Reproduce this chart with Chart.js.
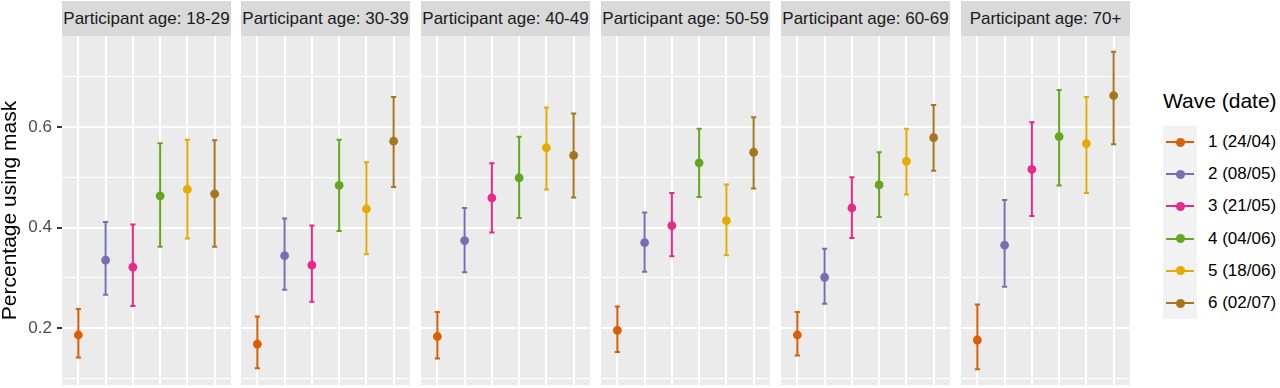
<!DOCTYPE html>
<html><head><meta charset="utf-8">
<script src="https://cdn.jsdelivr.net/npm/chart.js@4.4.1/dist/chart.umd.min.js"></script>
<style>
body{margin:0;background:#fff;width:1280px;height:388px;overflow:hidden;position:relative;font-family:"Liberation Sans",Arial,sans-serif;}
.strip{position:absolute;top:1px;height:35px;background:#D9D9D9;color:#1A1A1A;font-size:17px;line-height:35px;text-align:center;white-space:nowrap;}
canvas{position:absolute;}
.lgTitle{position:absolute;left:1163px;top:89px;font-size:21px;line-height:24px;color:#000;white-space:nowrap;}
.lgBg{position:absolute;left:1163px;background:#F2F2F2;width:34px;}
.lgLine{position:absolute;left:1166px;width:28px;height:2px;}
.lgDot{position:absolute;left:1175.6px;width:9px;height:9px;border-radius:50%;}
.lgLab{position:absolute;left:1208px;font-size:17px;line-height:20px;color:#000;white-space:nowrap;}
</style>
</head><body>
<script>
// ---- data ----
const ageGroups = ['18-29','30-39','40-49','50-59','60-69','70+'];
const waveLabels = ['1 (24/04)','2 (08/05)','3 (21/05)','4 (04/06)','5 (18/06)','6 (02/07)'];
const waveColors = ['#D95F02','#7570B3','#E7298A','#66A61E','#E6AB02','#A6761D'];
const yMajorTicks = [0.2, 0.4, 0.6];
const yMinorTicks = [0.1, 0.3, 0.5, 0.7];

const mean_18_29  = [0.186, 0.335, 0.321, 0.463, 0.476, 0.467];
const lower_18_29 = [0.141, 0.266, 0.244, 0.362, 0.378, 0.362];
const upper_18_29 = [0.238, 0.411, 0.406, 0.568, 0.575, 0.574];

const mean_30_39  = [0.168, 0.344, 0.325, 0.484, 0.437, 0.572];
const lower_30_39 = [0.120, 0.276, 0.252, 0.393, 0.347, 0.481];
const upper_30_39 = [0.223, 0.418, 0.404, 0.575, 0.530, 0.660];

const mean_40_49  = [0.183, 0.374, 0.459, 0.499, 0.559, 0.544];
const lower_40_49 = [0.139, 0.311, 0.390, 0.419, 0.476, 0.460];
const upper_40_49 = [0.232, 0.439, 0.528, 0.581, 0.639, 0.627];

const mean_50_59  = [0.195, 0.370, 0.404, 0.529, 0.414, 0.550];
const lower_50_59 = [0.152, 0.312, 0.343, 0.461, 0.345, 0.478];
const upper_50_59 = [0.243, 0.430, 0.469, 0.597, 0.486, 0.620];

const mean_60_69  = [0.186, 0.301, 0.439, 0.485, 0.532, 0.579];
const lower_60_69 = [0.145, 0.248, 0.379, 0.421, 0.466, 0.513];
const upper_60_69 = [0.232, 0.358, 0.500, 0.550, 0.597, 0.644];

const mean_70p  = [0.176, 0.365, 0.516, 0.581, 0.567, 0.663];
const lower_70p = [0.118, 0.282, 0.423, 0.484, 0.469, 0.566];
const upper_70p = [0.247, 0.455, 0.610, 0.674, 0.660, 0.750];

const means  = [mean_18_29, mean_30_39, mean_40_49, mean_50_59, mean_60_69, mean_70p];
const lowers = [lower_18_29, lower_30_39, lower_40_49, lower_50_59, lower_60_69, lower_70p];
const uppers = [upper_18_29, upper_30_39, upper_40_49, upper_50_59, upper_60_69, upper_70p];

// ---- layout ----
const FONT = '"Liberation Sans", Arial, sans-serif';
const panelTop = 36, panelH = 349, panelW = 169;
const panelLeft = ageGroups.map((_, i) => Math.round(61.6 + i * 179.85));
const allLo = Math.min(...lowers.flat()), allHi = Math.max(...uppers.flat());
const yPad = 0.05 * (allHi - allLo);
const yMin = allLo - yPad, yMax = allHi + yPad;
const yAllTicks = [...yMajorTicks, ...yMinorTicks].sort((a, b) => a - b);
const isMajor = v => yMajorTicks.some(m => Math.abs(m - v) < 1e-9);

const bgPlugin = {
  id: 'panelBg',
  beforeDraw(chart) {
    const {ctx, chartArea: a} = chart;
    ctx.save(); ctx.fillStyle = '#EBEBEB';
    ctx.fillRect(a.left, a.top, a.right - a.left, a.bottom - a.top);
    ctx.restore();
  }
};
const errorBarPlugin = {
  id: 'errorBars',
  beforeDatasetsDraw(chart) {
    const {ctx, scales: {x, y}} = chart;
    const ds = chart.data.datasets[0];
    ctx.save();
    ctx.lineWidth = 2;
    ds.lower.forEach((lo, k) => {
      const px = x.getPixelForValue(k + 1);
      const yl = y.getPixelForValue(lo), yh = y.getPixelForValue(ds.upper[k]);
      ctx.strokeStyle = waveColors[k];
      ctx.beginPath();
      ctx.moveTo(px, yl); ctx.lineTo(px, yh);
      ctx.moveTo(px - 2.6, yl); ctx.lineTo(px + 2.6, yl);
      ctx.moveTo(px - 2.6, yh); ctx.lineTo(px + 2.6, yh);
      ctx.stroke();
    });
    ctx.restore();
  }
};

ageGroups.forEach((age, i) => {
  const first = i === 0;
  const strip = document.createElement('div');
  strip.className = 'strip';
  strip.style.left = panelLeft[i] + 'px';
  strip.style.width = panelW + 'px';
  strip.textContent = 'Participant age: ' + age;
  document.body.appendChild(strip);

  const cv = document.createElement('canvas');
  const left = first ? 0 : panelLeft[i];
  const w = first ? panelLeft[0] + panelW : panelW;
  cv.width = w; cv.height = panelH;
  cv.style.left = left + 'px'; cv.style.top = panelTop + 'px';
  cv.style.width = w + 'px'; cv.style.height = panelH + 'px';
  document.body.appendChild(cv);

  new Chart(cv, {
    type: 'scatter',
    data: {
      datasets: [{
        data: means[i].map((v, k) => ({x: k + 1, y: v})),
        lower: lowers[i], upper: uppers[i],
        backgroundColor: waveColors, borderColor: waveColors,
        pointRadius: 4.4, pointBorderWidth: 0, pointHoverRadius: 4.4, showLine: false
      }]
    },
    options: {
      responsive: false, animation: false, devicePixelRatio: 1,
      layout: {padding: 0, autoPadding: false},
      events: [],
      plugins: {legend: {display: false}, tooltip: {enabled: false}},
      scales: {
        x: {
          type: 'linear', min: 1 - 0.6, max: waveLabels.length + 0.6,
          afterBuildTicks: s => { s.ticks = waveLabels.map((_, k) => ({value: k + 1})); },
          afterFit: s => { s.height = 0; s.paddingLeft = 0; s.paddingRight = 0; s.paddingTop = 0; s.paddingBottom = 0; },
          ticks: {display: false},
          grid: {color: '#FFFFFF', lineWidth: 2, drawTicks: false},
          border: {display: false}
        },
        y: {
          type: 'linear', min: yMin, max: yMax,
          afterBuildTicks: s => { s.ticks = yAllTicks.map(v => ({value: v})); },
          afterFit: s => { s.width = first ? panelLeft[0] : 0; s.paddingTop = 0; s.paddingBottom = 0; s.paddingLeft = 0; s.paddingRight = 0; },
          ticks: {
            display: first, padding: 5, color: '#4D4D4D',
            font: {family: FONT, size: 17},
            callback: v => isMajor(v) ? String(v) : ''
          },
          grid: {
            color: '#FFFFFF',
            lineWidth: c => (c.tick && isMajor(c.tick.value)) ? 2 : 1,
            drawTicks: first, tickLength: 5, tickWidth: 2,
            tickColor: c => (c.tick && isMajor(c.tick.value)) ? '#333333' : 'rgba(0,0,0,0)'
          },
          border: {display: false},
          title: {
            display: first, text: 'Percentage using mask', color: '#000',
            font: {family: FONT, size: 21, lineHeight: 1}, padding: 0
          }
        }
      }
    },
    plugins: [bgPlugin, errorBarPlugin]
  });
});

// ---- legend ----
const lgStep = 32.2, lgFirst = 142;
const t = document.createElement('div'); t.className = 'lgTitle'; t.textContent = 'Wave (date)';
document.body.appendChild(t);
const bg = document.createElement('div'); bg.className = 'lgBg';
bg.style.top = (lgFirst - lgStep / 2) + 'px'; bg.style.height = (lgStep * waveLabels.length) + 'px';
document.body.appendChild(bg);
waveLabels.forEach((lab, k) => {
  const cy = lgFirst + k * lgStep;
  const ln = document.createElement('div'); ln.className = 'lgLine';
  ln.style.top = (cy - 1) + 'px'; ln.style.background = waveColors[k];
  const dt = document.createElement('div'); dt.className = 'lgDot';
  dt.style.top = (cy - 4.5) + 'px'; dt.style.background = waveColors[k];
  const tx = document.createElement('div'); tx.className = 'lgLab';
  tx.style.top = (cy - 10) + 'px'; tx.textContent = lab;
  document.body.append(ln, dt, tx);
});
</script>
</body></html>
